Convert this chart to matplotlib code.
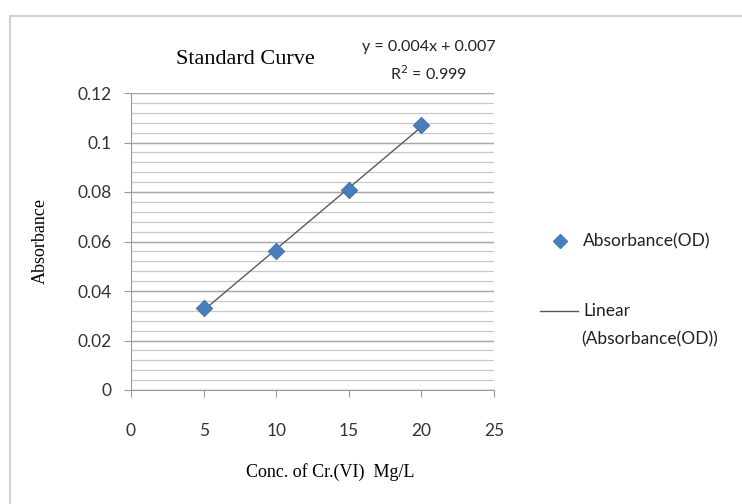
import numpy as np
import matplotlib.pyplot as plt
from matplotlib.lines import Line2D

# data
conc = [5, 10, 15, 20]
absorbance = [0.033, 0.056, 0.081, 0.107]
x_ticks = [0, 5, 10, 15, 20, 25]
y_ticks = [0, 0.02, 0.04, 0.06, 0.08, 0.1, 0.12]
y_tick_labels = ["0", "0.02", "0.04", "0.06", "0.08", "0.1", "0.12"]

fig = plt.figure(figsize=(7.42, 5.04), dpi=100)
W, H = 742, 504

# outer chart border (light gray, partially cut off like the screenshot)
fig.add_artist(Line2D([10 / W, 1], [1 - 16 / H, 1 - 16 / H], color="#c8c8c8", lw=1.2))
fig.add_artist(Line2D([10 / W, 10 / W], [0, 1 - 16 / H], color="#c8c8c8", lw=1.2))

ax = fig.add_axes([131 / W, 1 - 390 / H, (494 - 131) / W, (390 - 93) / H])

# gridlines: minor every 0.004, major every 0.02
for v in np.arange(0, 0.1201, 0.004):
    ax.axhline(v, color="#c9c9c9", lw=0.9, zorder=0)
for v in y_ticks:
    ax.axhline(v, color="#a8a8a8", lw=1.0, zorder=0)

# linear trendline
slope, intercept = np.polyfit(conc, absorbance, 1)
xs = np.array([conc[0], conc[-1]])
ax.plot(xs, slope * xs + intercept, color="#5a5a5a", lw=1.0, zorder=2)
ax.scatter(conc, absorbance, marker="D", s=70, color="#4a7ebb", edgecolor="#3a6aa8",
           linewidth=0.6, zorder=3)

ax.set_xlim(0, 25)
ax.set_ylim(0, 0.12)
ax.set_xticks(x_ticks)
ax.set_yticks(y_ticks)
ax.set_yticklabels(y_tick_labels)
for s in ["top", "right"]:
    ax.spines[s].set_visible(False)
for s in ["left", "bottom"]:
    ax.spines[s].set_color("#9a9a9a")
ax.tick_params(axis="both", direction="out", length=5, color="#9a9a9a",
               labelsize=12.5, labelcolor="#333333")
ax.tick_params(axis="x", pad=19)
ax.tick_params(axis="y", pad=9)
for lab in ax.get_xticklabels() + ax.get_yticklabels():
    lab.set_family("Lato")

ax.set_xlabel("Conc. of Cr.(VI)  Mg/L", family="Liberation Serif", fontsize=13)
ax.xaxis.set_label_coords(0.55, -0.245)
ax.set_ylabel("Absorbance", family="Liberation Serif", fontsize=13)
ax.yaxis.set_label_coords(-0.225, 0.5)

fig.text(245 / W, 1 - 60 / H, "Standard Curve", family="Liberation Serif",
         fontsize=16, ha="center", va="center")
fig.text(429 / W, 1 - 47 / H, "y = 0.004x + 0.007", family="Lato", fontsize=11.5,
         ha="center", va="center", color="#222222")
fig.text(429 / W, 1 - 74 / H, "R$^2$ = 0.999", family="Lato", fontsize=11.5,
         ha="center", va="center", color="#222222")

# legend drawn manually to match Excel layout
fig.add_artist(Line2D([560 / W], [1 - 241 / H], marker="D", markersize=7,
                      color="#4a7ebb", lw=0))
fig.text(583 / W, 1 - 241 / H, "Absorbance(OD)", family="Lato", fontsize=12.5,
         va="center", color="#222222")
fig.add_artist(Line2D([540 / W, 578 / W], [1 - 311 / H, 1 - 311 / H],
                      color="#5a5a5a", lw=1.0))
fig.text(583 / W, 1 - 311 / H, "Linear", family="Lato", fontsize=12.5,
         va="center", color="#222222")
fig.text(581 / W, 1 - 339 / H, "(Absorbance(OD))", family="Lato", fontsize=12.5,
         va="center", color="#222222")

fig.savefig("out.png", dpi=100)
